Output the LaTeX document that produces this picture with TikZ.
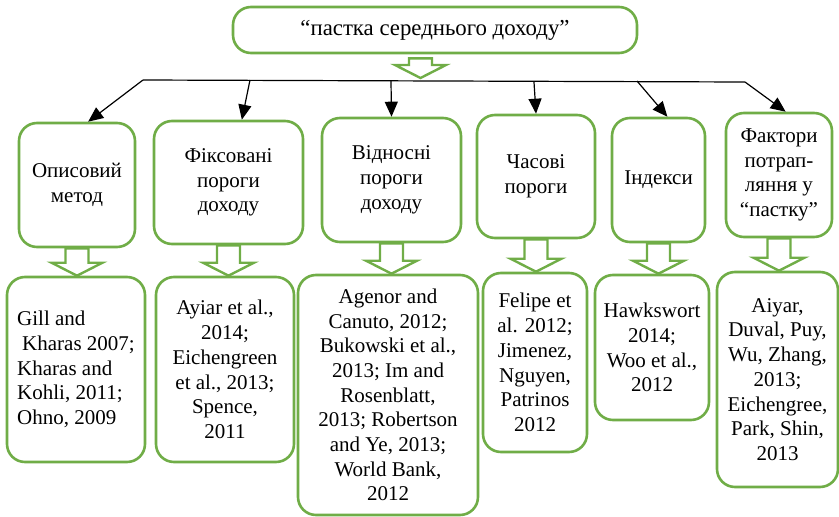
\documentclass[tikz,border=0pt]{standalone}
\usepackage{fontspec}
\setmainfont{Liberation Serif}
\usetikzlibrary{arrows.meta,calc}
\definecolor{boxgreen}{HTML}{70AD47}
\tikzset{
  box/.style={draw=boxgreen, line width=2.6pt, rounded corners=18pt, fill=white,
    align=center, inner sep=2pt, font=\rmfamily\fontsize{21}{24.7}\selectfont},
  fat/.style={draw=boxgreen, line width=2.4pt, fill=white, line join=miter},
  link/.style={line width=1.2pt, -{Triangle[length=15pt,width=13pt]}}
}
% hollow arrow: top of shaft, then tip
\newcommand{\fatarrow}[2]{%
  \draw[fat] let \p1=#1, \p2=#2 in
  (\x1-11.5pt,\y1) -- (\x1+11.5pt,\y1) -- (\x1+11.5pt,\y2+13pt) -- (\x1+25.5pt,\y2+13pt)
  -- (\x1,\y2) -- (\x1-25.5pt,\y2+13pt) -- (\x1-11.5pt,\y2+13pt) -- cycle;}
\begin{document}
\begin{tikzpicture}[x=1pt,y=-1pt]
\useasboundingbox (0,0) rectangle (839,517);

% Title
\node[box, font=\rmfamily\fontsize{22.8}{26}\selectfont, minimum width=404pt, minimum height=46pt] (title) at (435,30) {“пастка середнього доходу”};

% Bus
\coordinate (busL) at (143,80);
\coordinate (busR) at (745,82);
\coordinate (s2) at (250,80);
\coordinate (s3) at (391,81);
\coordinate (s4) at (534,82);
\coordinate (s5) at (637,81);
\coordinate (tip0) at (420.5,78);
\draw[line width=1.2pt] (busL) -- (busR);

% Methods
\node[box, minimum width=116pt, minimum height=124pt] (b1) at (77,185) {Описовий\\метод};
\node[box, minimum width=149pt, minimum height=123pt] (b2) at (228.5,182.5) {Фіксовані\\пороги\\доходу};
\node[box, minimum width=139pt, minimum height=124pt] (b3) at (391.5,180) {Відносні\\пороги\\доходу};
\node[box, minimum width=118pt, minimum height=123pt] (b4) at (536,176.5) {Часові\\пороги};
\node[box, minimum width=93pt, minimum height=124pt] (b5) at (658.5,180) {Індекси};
\node[box, minimum width=106pt, minimum height=124pt] (b6) at (779,175) {Фактори\\потрап-\\ляння у\\“пастку”};

% Sources
\node[box, align=left, minimum width=138pt, minimum height=185pt] (c1) at (76,369.5)
  {Gill and\\\hspace{5pt}Kharas 2007;\\Kharas and\\Kohli, 2011;\\Ohno, 2009};
\node[box, minimum width=138pt, minimum height=185pt] (c2) at (225,369.5)
  {Ayiar et al.,\\2014;\\Eichengreen\\et al., 2013;\\Spence,\\2011};
\node[box, minimum width=180pt, minimum height=240pt] (c3) at (388,395)
  {Agenor and\\Canuto, 2012;\\Bukowski et al.,\\2013; Im and\\Rosenblatt,\\2013; Robertson\\and Ye, 2013;\\World Bank,\\2012};
\node[box, minimum width=104pt, minimum height=179pt] (c4) at (535,362.5)
  {Felipe et\\al. 2012;\\Jimenez,\\Nguyen,\\Patrinos\\2012};
\node[box, minimum width=114pt, minimum height=145pt] (c5) at (652,347.5)
  {Hawkswort\\2014;\\Woo et al.,\\2012};
\node[box, minimum width=121pt, minimum height=215pt] (c6) at (777.5,379.5)
  {Aiyar,\\Duval, Puy,\\Wu, Zhang,\\2013;\\Eichengree,\\Park, Shin,\\2013};

% Arrows from bus
\draw[link] (busL) -- (b1.80);
\draw[link] (s2) -- (b2.78);
\draw[link] (s3) -- (b3.north);
\draw[link] (s4) -- (b4.north);
\draw[link] (s5) -- (b5.82);
\draw[link] (busR) -- (b6.84);

% Hollow arrows
\fatarrow{($(title.south)+(-14.5,4)$)}{(tip0)}
\foreach \i in {1,...,6}{
  \fatarrow{(b\i.south)}{(c\i.north)}
}
\end{tikzpicture}
\end{document}
